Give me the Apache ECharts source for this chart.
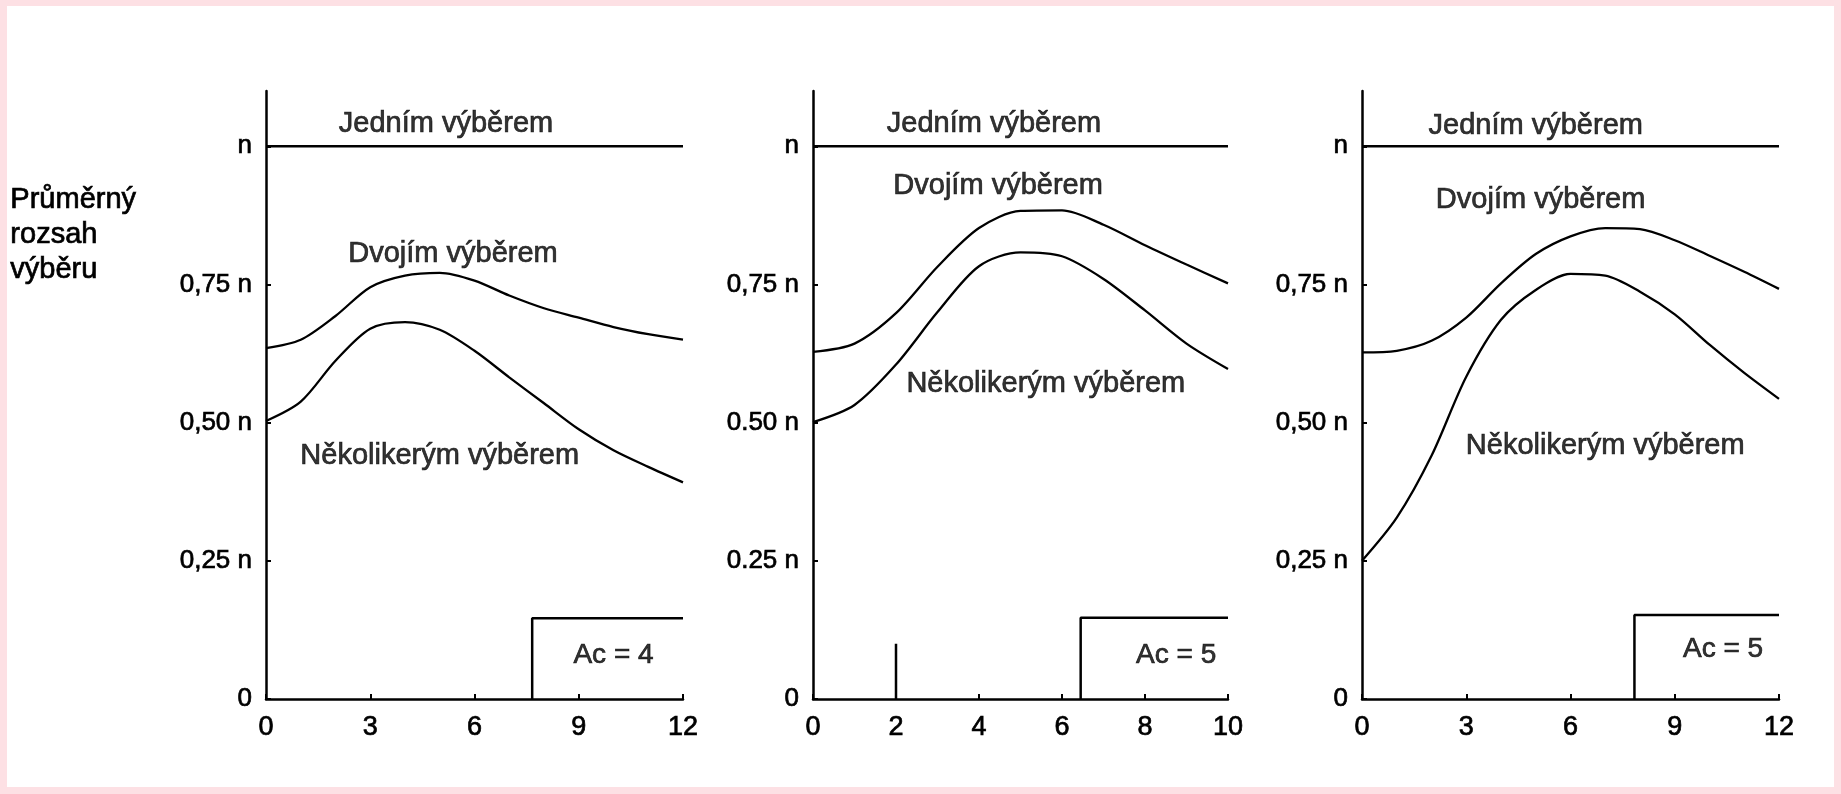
<!DOCTYPE html>
<html>
<head>
<meta charset="utf-8">
<script src="https://cdn.jsdelivr.net/npm/echarts@6/dist/echarts.min.js"></script>
<style>
  html, body { margin: 0; padding: 0; background: #ffffff; }
  #chart { width: 1841px; height: 794px; }
  #frame {
    position: absolute; left: 0; top: 0; width: 1841px; height: 794px;
    box-sizing: border-box; border: 7px solid #fde0e4; border-top-width: 6px;
    pointer-events: none;
  }
</style>
</head>
<body>
<div id="chart"></div>
<div id="frame"></div>
<script>
// Acceptance sampling plans: average sample size (as a fraction of n) vs. lot quality
const FONT = '"Liberation Sans", Arial, sans-serif';

// Panel 1 (Ac = 4), x 0..12
const p1X = [0, 1, 2, 3, 4, 5, 6, 7, 8, 9, 10, 11, 12];
const p1Dvojim = [0.635, 0.650, 0.693, 0.745, 0.766, 0.771, 0.757, 0.730, 0.707, 0.690, 0.673, 0.660, 0.650];
const p1Nekolik = [0.503, 0.538, 0.612, 0.670, 0.682, 0.668, 0.630, 0.582, 0.535, 0.488, 0.450, 0.420, 0.392];
const p1XTicks = ['0', '3', '6', '9', '12'];
const p1YTicks = ['0', '0,25 n', '0,50 n', '0,75 n', 'n'];

// Panel 2 (Ac = 5), x 0..10
const p2X = [0, 1, 2, 3, 4, 5, 6, 7, 8, 9, 10];
const p2Dvojim = [0.628, 0.643, 0.698, 0.782, 0.852, 0.883, 0.884, 0.858, 0.821, 0.786, 0.752];
const p2Nekolik = [0.501, 0.532, 0.605, 0.700, 0.783, 0.808, 0.801, 0.760, 0.703, 0.643, 0.597];
const p2XTicks = ['0', '2', '4', '6', '8', '10'];
const p2YTicks = ['0', '0.25 n', '0.50 n', '0,75 n', 'n'];

// Panel 3 (Ac = 5), x 0..12
const p3X = [0, 1, 2, 3, 4, 5, 6, 7, 8, 9, 10, 11, 12];
const p3Dvojim = [0.627, 0.630, 0.648, 0.690, 0.752, 0.805, 0.837, 0.852, 0.850, 0.830, 0.802, 0.773, 0.742];
const p3Nekolik = [0.250, 0.328, 0.440, 0.583, 0.686, 0.740, 0.769, 0.766, 0.737, 0.696, 0.641, 0.590, 0.543];
const p3XTicks = ['0', '3', '6', '9', '12'];
const p3YTicks = ['0', '0,25 n', '0,50 n', '0,75 n', 'n'];

// Single sampling always inspects the full n
const jednimLevel = 1;

// Acceptance-number boxes: step position and height
const acLabels = ['Ac = 4', 'Ac = 5', 'Ac = 5'];
const acStepX = [7.66, 6.45, 7.84];
const acLevel = [0.146, 0.147, 0.152];

// Short mark in panel 2
const p2SpikeX = 2;
const p2SpikeTop = 0.10;

// Curve names
const nameJednim = 'Jedním výběrem';
const nameDvojim = 'Dvojím výběrem';
const nameNekolik = 'Několikerým výběrem';
const yTitle = 'Průměrný\nrozsah\nvýběru';

// Where the curve names sit, in data units of each panel
const namePos = [
  { jednim: [5.18, 1.04], dvojim: [5.38, 0.806], nekolik: [5.0, 0.44], ac: [10.0, 0.08] },
  { jednim: [4.36, 1.04], dvojim: [4.46, 0.929], nekolik: [5.61, 0.57], ac: [8.75, 0.08] },
  { jednim: [5.0, 1.037], dvojim: [5.14, 0.902], nekolik: [7.0, 0.458], ac: [10.39, 0.09] }
];

const panels = [
  { x: p1X, dv: p1Dvojim, nk: p1Nekolik, xt: p1XTicks, yt: p1YTicks, xmax: 12, xint: 3, left: 266, width: 417 },
  { x: p2X, dv: p2Dvojim, nk: p2Nekolik, xt: p2XTicks, yt: p2YTicks, xmax: 10, xint: 2, left: 813, width: 415 },
  { x: p3X, dv: p3Dvojim, nk: p3Nekolik, xt: p3XTicks, yt: p3YTicks, xmax: 12, xint: 3, left: 1362, width: 417 }
];

const YMAX = 1.1;
const zip = (xs, ys) => xs.map((x, i) => [x, ys[i]]);

// slight outline thickens the glyphs to the heavy print look
const heavy = { textBorderColor: '#000', textBorderWidth: 0.7 };

const grid = [], xAxis = [], yAxis = [], series = [];

panels.forEach((p, i) => {
  grid.push({ left: p.left, top: 91, width: p.width, height: 608, containLabel: false });

  xAxis.push({
    type: 'value', gridIndex: i, min: 0, max: p.xmax, interval: p.xint,
    axisLine: { show: true, onZero: false, lineStyle: { color: '#000', width: 2.5 } },
    axisTick: { show: true, inside: true, length: 5, lineStyle: { color: '#000', width: 2 } },
    splitLine: { show: false },
    axisLabel: Object.assign({
      color: '#000', fontSize: 27, fontFamily: FONT, margin: 15,
      formatter: v => p.xt[Math.round(v / p.xint)] ?? ''
    }, heavy)
  });

  yAxis.push({
    type: 'value', gridIndex: i, min: 0, max: YMAX, interval: 0.25,
    axisLine: { show: true, onZero: false, lineStyle: { color: '#000', width: 2.5 } },
    axisTick: { show: true, inside: true, length: 5, lineStyle: { color: '#000', width: 2 } },
    splitLine: { show: false },
    axisLabel: Object.assign({
      color: '#000', fontSize: 26, fontFamily: FONT, margin: 14, showMaxLabel: false,
      formatter: v => {
        const k = Math.round(v / 0.25);
        return Math.abs(v - k * 0.25) < 1e-6 ? (p.yt[k] ?? '') : '';
      }
    }, heavy)
  });

  const lineBase = {
    type: 'line', xAxisIndex: i, yAxisIndex: i, symbol: 'none', silent: true,
    animation: false
  };

  // Single sampling: constant n
  series.push(Object.assign({}, lineBase, {
    data: [[0, jednimLevel], [p.xmax, jednimLevel]],
    lineStyle: { color: '#000', width: 2.5 }
  }));
  // Double sampling
  series.push(Object.assign({}, lineBase, {
    data: zip(p.x, p.dv), smooth: 0.3,
    lineStyle: { color: '#000', width: 2.3 }
  }));
  // Multiple sampling
  series.push(Object.assign({}, lineBase, {
    data: zip(p.x, p.nk), smooth: 0.3,
    lineStyle: { color: '#000', width: 2.3 }
  }));
  // Ac box outline
  series.push(Object.assign({}, lineBase, {
    data: [[acStepX[i], 0], [acStepX[i], acLevel[i]], [p.xmax, acLevel[i]]],
    lineStyle: { color: '#000', width: 2.5 }
  }));
  if (i === 1) {
    series.push(Object.assign({}, lineBase, {
      data: [[p2SpikeX, 0], [p2SpikeX, p2SpikeTop]],
      lineStyle: { color: '#000', width: 2.5 }
    }));
  }

  // Curve names and Ac label
  const np = namePos[i];
  series.push({
    type: 'scatter', xAxisIndex: i, yAxisIndex: i, symbolSize: 0, silent: true,
    animation: false,
    label: Object.assign({
      show: true, position: 'inside', formatter: '{b}', color: '#000',
      fontSize: 29, fontFamily: FONT
    }, heavy),
    data: [
      { name: nameJednim, value: np.jednim },
      { name: nameDvojim, value: np.dvojim },
      { name: nameNekolik, value: np.nekolik },
      { name: acLabels[i], value: np.ac, label: { fontSize: 28 } }
    ]
  });
});

const chart = echarts.init(document.getElementById('chart'), null, { renderer: 'canvas' });
chart.setOption({
  backgroundColor: '#ffffff',
  animation: false,
  grid, xAxis, yAxis, series,
  graphic: [{
    type: 'text', left: 10, top: 182,
    style: {
      text: yTitle, fill: '#000', font: '29px ' + FONT, lineHeight: 35,
      stroke: '#000', lineWidth: 0.7
    }
  }]
});
</script>
</body>
</html>
